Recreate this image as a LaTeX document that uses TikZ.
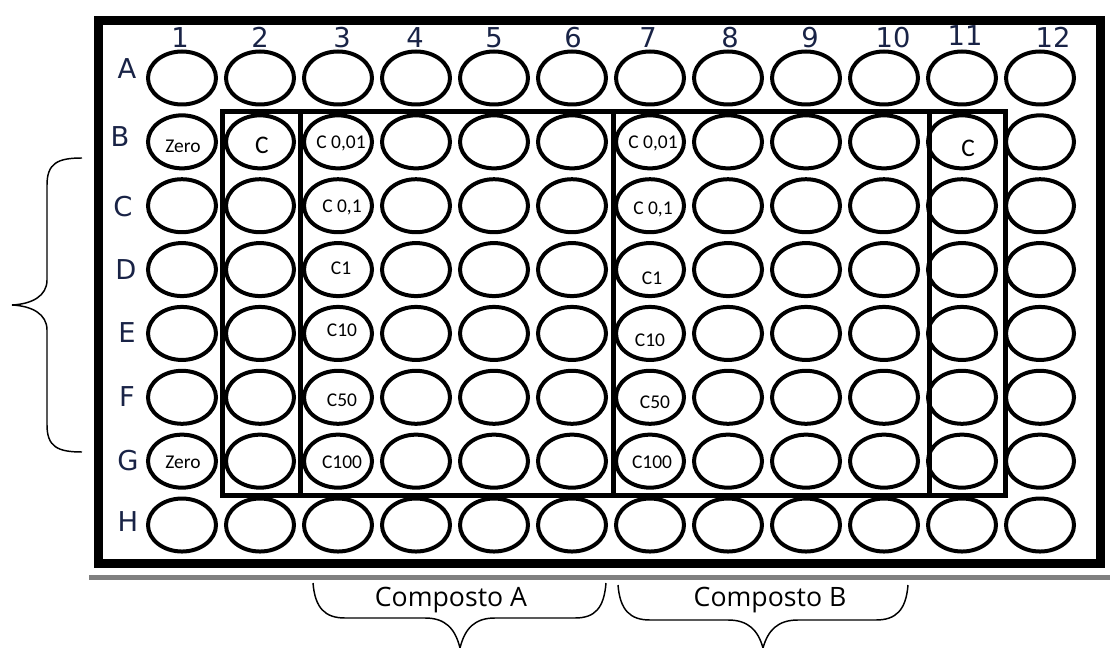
\documentclass[tikz,border=0pt]{standalone}
\usepackage{fontspec}
\setmainfont{Carlito}
\newfontfamily\lblfont{DejaVu Sans}
\newfontfamily\cmpfont{Open Sans}
\usetikzlibrary{shapes.geometric}
\definecolor{lblcol}{RGB}{25,35,70}
\definecolor{rulegray}{RGB}{128,128,128}
\tikzset{
  well/.style={ellipse, draw, line width=3pt, minimum width=51pt, minimum height=39.75pt, inner sep=0pt},
  wlabel/.style={font=\fontsize{14.6}{16}\selectfont, inner sep=0pt, text height=9.4pt, text depth=0pt},
  biglabel/.style={font=\fontsize{19}{21}\selectfont, inner sep=0pt, text height=12.2pt, text depth=0pt},
  axlabel/.style={font=\lblfont\fontsize{20.5}{22}\selectfont, text=lblcol, inner sep=0pt, text height=14.9pt, text depth=0pt},
  grp/.style={line width=3.75pt},
  plate/.style={line width=6.75pt},
  bracket/.style={line width=1.1pt},
  cmp/.style={font=\cmpfont\fontsize{20}{22}\selectfont, inner sep=0pt, text height=14.3pt, text depth=0pt}
}
\begin{document}
\begin{tikzpicture}[x=0.75pt,y=-0.75pt]
\useasboundingbox (0,0) rectangle (1110,648);

% plate
\draw[plate] (98,21) rectangle (1100,563);
\draw[line width=3.75pt, rulegray] (89,577.5) -- (1110,577.5);

% wells
\foreach \r [count=\i from 0] in {A,B,C,D,E,F,G,H}{
  \foreach \c in {1,...,12}{
    \node[well] (w-\r-\c) at ({182+78*(\c-1)},{78+63.86*\i}) {};
  }
}

% group frames
\draw[grp] (222,112) rectangle (1005,495);
\draw[grp] (300,112) -- (300,495);
\draw[grp] (613,112) -- (613,495);
\draw[grp] (929,112) -- (929,495);

% column numbers
\foreach \n/\x/\y in {1/180/38,2/260/38,3/342/38,4/415/38,5/494/38,6/573/38,7/648/38,8/730/38,9/810/38,10/893/38,11/965/36,12/1053/38}{
  \node[axlabel] (col-\n) at (\x,\y) {\n};
}
% row letters
\foreach \r/\x/\y in {A/127/69,B/120/137,C/123/207,D/126/270,E/127/333,F/127/397,G/128/461,H/128/522}{
  \node[axlabel] (row-\r) at (\x,\y) {\r};
}

% well labels
\node[wlabel] (l-B1) at (183,146) {Zero};
\node[wlabel] (l-G1) at (183,462) {Zero};
\node[biglabel] (l-B2) at (262,145) {C};
\node[biglabel] (l-B11) at (968,148) {C};
\node[wlabel] (l-B3) at (341,142) {C 0,01};
\node[wlabel] (l-C3) at (342,206) {C 0,1};
\node[wlabel] (l-D3) at (341,268) {C1};
\node[wlabel] (l-E3) at (342,330) {C10};
\node[wlabel] (l-F3) at (342,400) {C50};
\node[wlabel] (l-G3) at (342,462) {C100};
\node[wlabel] (l-B7) at (653,142) {C 0,01};
\node[wlabel] (l-C7) at (653,208) {C 0,1};
\node[wlabel] (l-D7) at (652,278) {C1};
\node[wlabel] (l-E7) at (650,340) {C10};
\node[wlabel] (l-F7) at (655,402) {C50};
\node[wlabel] (l-G7) at (652,462) {C100};

% left brace
\draw[bracket] (82,158) .. controls (58,158) and (47,163) .. (47,185) -- (47,280)
  .. controls (47,296) and (32,304) .. (12,305)
  .. controls (32,306) and (47,314) .. (47,330) -- (47,425)
  .. controls (47,447) and (58,452) .. (82,452);

% bottom braces
\draw[bracket] (313,583) .. controls (315,608) and (325,618) .. (345,618) -- (425,618)
  .. controls (445,618) and (455,628) .. (460,648);
\draw[bracket] (460,648) .. controls (465,628) and (475,618) .. (495,618) -- (575,618)
  .. controls (595,618) and (604,608) .. (606,583);
\draw[bracket] (618,585) .. controls (620,610) and (630,620) .. (650,620) -- (728,620)
  .. controls (748,620) and (758,630) .. (763,648);
\draw[bracket] (763,648) .. controls (768,630) and (778,620) .. (798,620) -- (876,620)
  .. controls (896,620) and (906,610) .. (908,585);

\node[cmp] (cmpA) at (451,597) {Composto A};
\node[cmp] (cmpB) at (770,597) {Composto B};
\end{tikzpicture}
\end{document}
